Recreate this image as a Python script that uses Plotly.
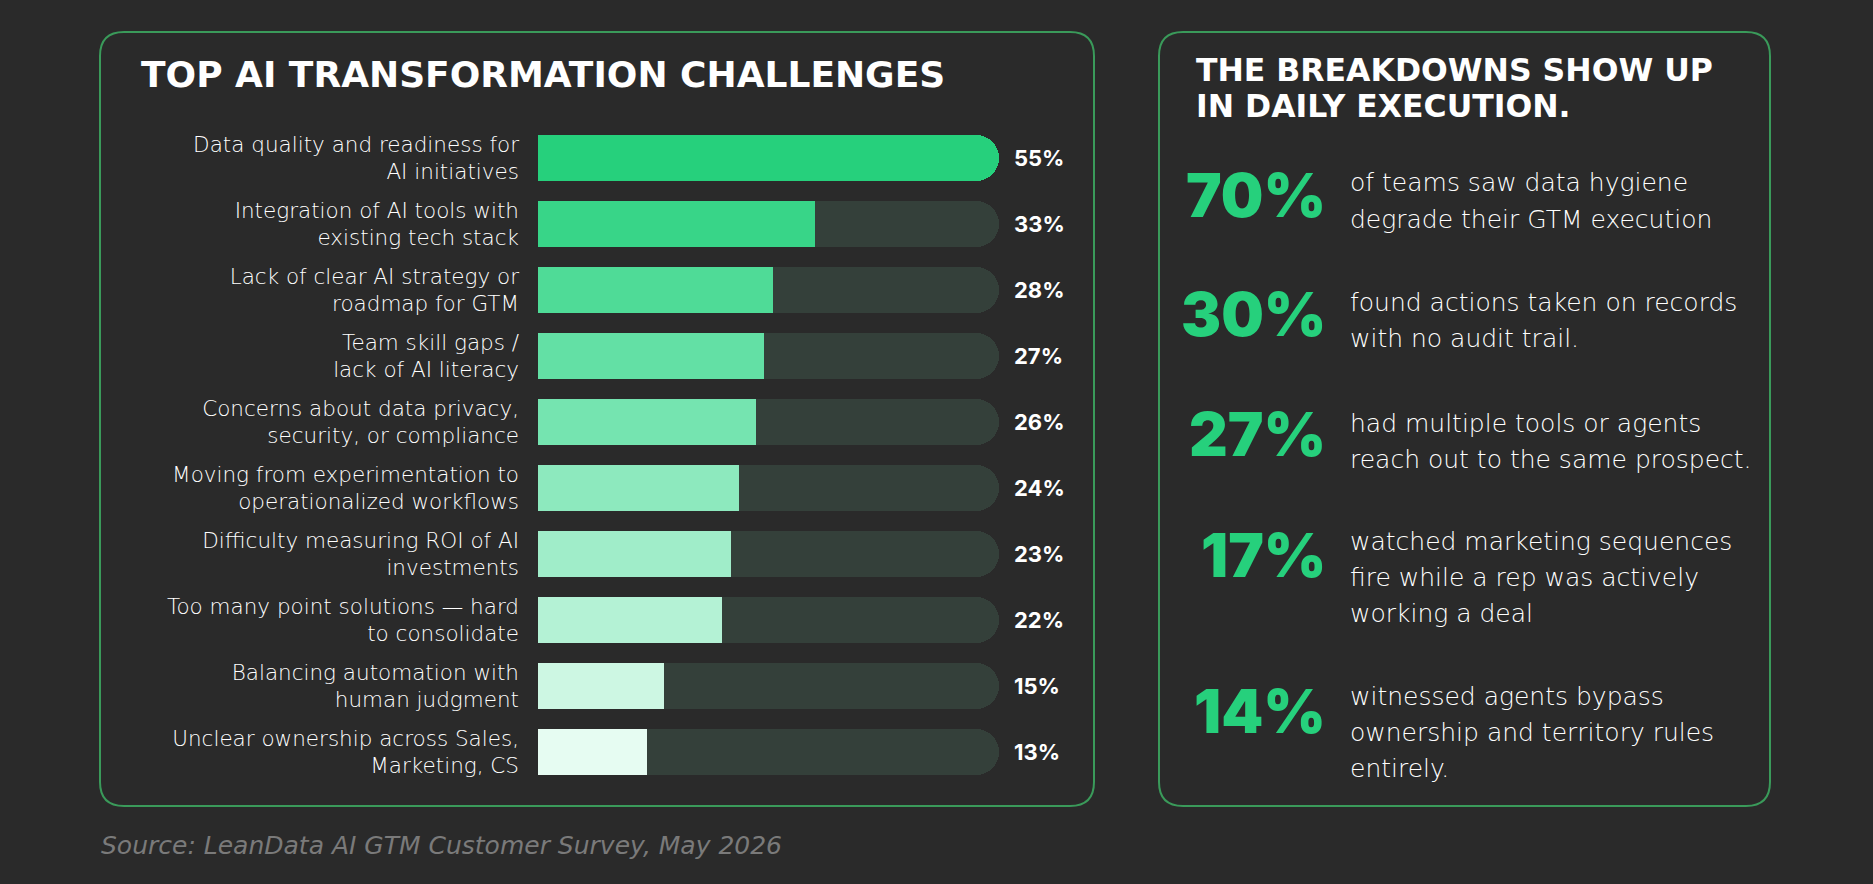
import plotly.graph_objects as go

# ---------------- data ----------------
categories = [
    "Data quality and readiness for<br>AI initiatives",
    "Integration of AI tools with<br>existing tech stack",
    "Lack of clear AI strategy or<br>roadmap for GTM",
    "Team skill gaps /<br>lack of AI literacy",
    "Concerns about data privacy,<br>security, or compliance",
    "Moving from experimentation to<br>operationalized workflows",
    "Difficulty measuring ROI of AI<br>investments",
    "Too many point solutions — hard<br>to consolidate",
    "Balancing automation with<br>human judgment",
    "Unclear ownership across Sales,<br>Marketing, CS",
]
values = [55, 33, 28, 27, 26, 24, 23, 22, 15, 13]
bar_colors = ["#26d07c", "#38d588", "#4fdb97", "#63e0a5", "#75e4b0",
              "#8de9be", "#a0edc9", "#b4f2d5", "#cdf7e3", "#e6fcf2"]

stat_values = ["70%", "30%", "27%", "17%", "14%"]
stat_lines = [
    ["of teams saw data hygiene", "degrade their GTM execution"],
    ["found actions taken on records", "with no audit trail."],
    ["had multiple tools or agents", "reach out to the same prospect."],
    ["watched marketing sequences", "fire while a rep was actively", "working a deal"],
    ["witnessed agents bypass", "ownership and territory rules", "entirely."],
]

left_title = "TOP AI TRANSFORMATION CHALLENGES"
right_title = ["THE BREAKDOWNS SHOW UP", "IN DAILY EXECUTION."]
source = "Source: LeanData AI GTM Customer Survey, May 2026"

# ---------------- layout helpers ----------------
W, H = 1873, 884
BG = "#2a2a2a"
GREEN = "#26d07c"
BORDER = "#3a9a5a"
TRACK = "#34403a"
FONT = "Inter, Lato, 'Open Sans', sans-serif"
WIDE = "'DejaVu Sans', Inter, sans-serif"


def X(px):
    return px / W


def Y(py):
    return 1 - py / H


def rounded_rect(x0, y0, x1, y1, r):
    rx, ry = r / W, r / H
    a0, a1 = X(x0), X(x1)
    b0, b1 = Y(y0), Y(y1)  # b0 top, b1 bottom
    return (f"M {a0+rx},{b0} L {a1-rx},{b0} Q {a1},{b0} {a1},{b0-ry} "
            f"L {a1},{b1+ry} Q {a1},{b1} {a1-rx},{b1} "
            f"L {a0+rx},{b1} Q {a0},{b1} {a0},{b1+ry} "
            f"L {a0},{b0-ry} Q {a0},{b0} {a0+rx},{b0} Z")


max_val = max(values)
n = len(categories)

fig = go.Figure()
# background tracks
fig.add_trace(go.Bar(
    x=[max_val] * n, y=categories, orientation="h",
    marker=dict(color=TRACK, cornerradius="50%", line=dict(width=0)),
    width=0.69, hoverinfo="skip", showlegend=False,
))
# value bars
fig.add_trace(go.Bar(
    x=values, y=categories, orientation="h",
    marker=dict(color=bar_colors, cornerradius="50%", line=dict(width=0)),
    width=0.69, showlegend=False,
    hovertemplate="%{y}: %{x}%<extra></extra>",
))

annotations = []
for cat, v in zip(categories, values):
    annotations.append(dict(
        x=max_val, y=cat, xref="x", yref="y", xanchor="left", yanchor="middle",
        xshift=13, text=f"<b>{v}%</b>", showarrow=False,
        font=dict(family=FONT, size=22, color="#ffffff"),
    ))

# left title
annotations.append(dict(
    x=X(139), y=Y(74), xref="paper", yref="paper", xanchor="left", yanchor="middle",
    text=left_title, showarrow=False,
    font=dict(family=WIDE, size=36, color="#ffffff", weight=800),
))
# right title
for i, line in enumerate(right_title):
    annotations.append(dict(
        x=X(1194), y=Y(70 + 36 * i), xref="paper", yref="paper",
        xanchor="left", yanchor="middle", text=line, showarrow=False,
        font=dict(family=WIDE, size=31.5, color="#ffffff", weight=800),
    ))

# stats
num_y = [195, 314, 434, 555, 711]
first_line_y = [183, 302, 423, 541, 696]
for sv, lines, ny, ly in zip(stat_values, stat_lines, num_y, first_line_y):
    annotations.append(dict(
        x=X(1328), y=Y(ny), xref="paper", yref="paper", xanchor="right",
        yanchor="middle", text=sv, showarrow=False,
        font=dict(family=FONT, size=60, color=GREEN, weight=900),
    ))
    for j, ln in enumerate(lines):
        annotations.append(dict(
            x=X(1348), y=Y(ly + 36 * j), xref="paper", yref="paper",
            xanchor="left", yanchor="middle", text=ln, showarrow=False,
            font=dict(family=WIDE, size=25, color="#ffffff", weight=300),
        ))

# source
annotations.append(dict(
    x=X(99), y=Y(845), xref="paper", yref="paper", xanchor="left", yanchor="middle",
    text=source, showarrow=False,
    font=dict(family=WIDE, size=25, color="#7a7a7a", style="italic", weight=300),
))

shapes = [
    dict(type="path", xref="paper", yref="paper",
         path=rounded_rect(100, 32, 1094, 806, 24),
         line=dict(color=BORDER, width=2), fillcolor="rgba(0,0,0,0)", layer="below"),
    dict(type="path", xref="paper", yref="paper",
         path=rounded_rect(1159, 32, 1770, 806, 24),
         line=dict(color=BORDER, width=2), fillcolor="rgba(0,0,0,0)", layer="below"),
]

row_h = 66
top = 158 - row_h / 2
bottom = top + row_h * n

fig.update_layout(
    width=W, height=H,
    margin=dict(l=0, r=0, t=0, b=0, pad=0),
    paper_bgcolor=BG, plot_bgcolor="rgba(0,0,0,0)",
    barmode="overlay", bargap=0,
    showlegend=False,
    font=dict(family=FONT, color="#ffffff"),
    xaxis=dict(domain=[X(538), X(999)], range=[0, max_val], visible=False,
               fixedrange=True),
    yaxis=dict(domain=[Y(bottom), Y(top)], range=[n - 0.5, -0.5],
               type="category", categoryorder="array", categoryarray=categories,
               showgrid=False, zeroline=False, showline=False, ticks="",
               ticklabelstandoff=18,
               tickfont=dict(family=WIDE, size=21.5, color="#ffffff", weight=300),
               fixedrange=True),
    annotations=annotations,
    shapes=shapes,
)

fig.write_html("out.html")
